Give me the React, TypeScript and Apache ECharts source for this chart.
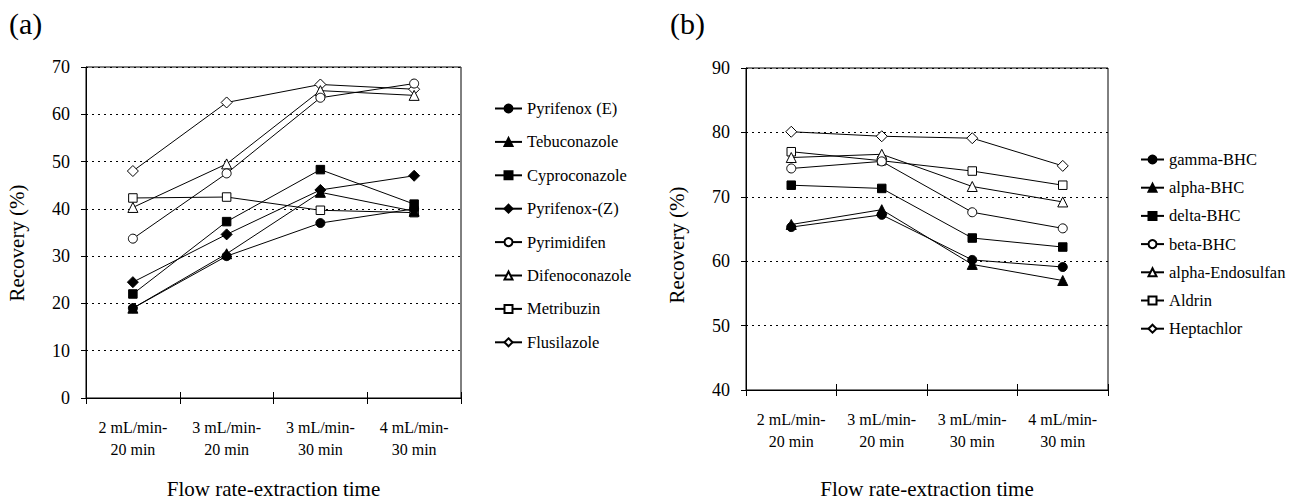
import React, { useEffect, useRef } from "react";
import * as echarts from "echarts";

const categories = ["2 mL/min-\n20 min", "3 mL/min-\n20 min", "3 mL/min-\n30 min", "4 mL/min-\n30 min"];

// Panel (a)
const namesA = ["Pyrifenox (E)", "Tebuconazole", "Cyproconazole", "Pyrifenox-(Z)", "Pyrimidifen", "Difenoconazole", "Metribuzin", "Flusilazole"];
const pyrifenoxE = [19, 30, 37, 40];
const tebuconazole = [19, 30.5, 43.5, 39.5];
const cyproconazole = [22, 37.3, 48.3, 41];
const pyrifenoxZ = [24.5, 34.6, 44, 47];
const pyrimidifen = [33.7, 47.5, 63.5, 66.5];
const difenoconazole = [40.3, 49.5, 65, 64];
const metribuzin = [42.3, 42.5, 39.7, 39.2];
const flusilazole = [48, 62.5, 66.3, 65.3];
const yTicksA = [0, 10, 20, 30, 40, 50, 60, 70];

// Panel (b)
const namesB = ["gamma-BHC", "alpha-BHC", "delta-BHC", "beta-BHC", "alpha-Endosulfan", "Aldrin", "Heptachlor"];
const gammaBHC = [65.3, 67.2, 60.2, 59.1];
const alphaBHC = [65.7, 68, 59.5, 57];
const deltaBHC = [71.8, 71.3, 63.6, 62.2];
const betaBHC = [74.4, 75.5, 67.6, 65.1];
const alphaEndosulfan = [76.1, 76.6, 71.6, 69.2];
const aldrin = [77, 75.6, 74, 71.8];
const heptachlor = [80.1, 79.4, 79.1, 74.8];
const yTicksB = [40, 50, 60, 70, 80, 90];

const xTitle = "Flow rate-extraction time";
const yTitle = "Recovery (%)";

const FONT = "'Liberation Serif', 'Times New Roman', serif";

type Shape = { symbol: string; filled: boolean; size: number };
const circleF: Shape = { symbol: "circle", filled: true, size: 9 };
const triF: Shape = { symbol: "triangle", filled: true, size: 10 };
const rectF: Shape = { symbol: "rect", filled: true, size: 8.5 };
const diaF: Shape = { symbol: "diamond", filled: true, size: 11 };
const circleO: Shape = { symbol: "circle", filled: false, size: 9 };
const triO: Shape = { symbol: "triangle", filled: false, size: 10 };
const rectO: Shape = { symbol: "rect", filled: false, size: 8.5 };
const diaO: Shape = { symbol: "diamond", filled: false, size: 11 };

const seriesA: [string, number[], Shape][] = [
  [namesA[7], flusilazole, diaO],
  [namesA[6], metribuzin, rectO],
  [namesA[5], difenoconazole, triO],
  [namesA[4], pyrimidifen, circleO],
  [namesA[3], pyrifenoxZ, diaF],
  [namesA[2], cyproconazole, rectF],
  [namesA[1], tebuconazole, triF],
  [namesA[0], pyrifenoxE, circleF],
];

const seriesB: [string, number[], Shape][] = [
  [namesB[6], heptachlor, diaO],
  [namesB[5], aldrin, rectO],
  [namesB[4], alphaEndosulfan, triO],
  [namesB[3], betaBHC, circleO],
  [namesB[2], deltaBHC, rectF],
  [namesB[1], alphaBHC, triF],
  [namesB[0], gammaBHC, circleF],
];

function mkSeries(name: string, data: number[], s: Shape, xi: number, yi: number) {
  return {
    type: "line",
    name,
    data,
    xAxisIndex: xi,
    yAxisIndex: yi,
    symbol: s.symbol,
    symbolSize: s.size,
    showAllSymbol: true,
    lineStyle: { color: "#000", width: 1 },
    itemStyle: { color: s.filled ? "#000" : "#fff", borderColor: "#000", borderWidth: 1 },
    emphasis: { disabled: true },
  };
}

function mkXAxis(gridIndex: number, main: boolean, nameGap: number) {
  return {
    type: "category",
    gridIndex,
    data: categories,
    boundaryGap: true,
    position: "bottom",
    name: main ? xTitle : "",
    nameLocation: "middle",
    nameGap,
    nameTextStyle: { fontFamily: FONT, fontSize: 21, color: "#000" },
    axisLine: { show: main, lineStyle: { color: "#000", width: 1 } },
    axisTick: { show: true, inside: !main, length: 6, lineStyle: { color: "#000" } },
    axisLabel: {
      show: main,
      fontFamily: FONT,
      fontSize: 16,
      color: "#000",
      lineHeight: 22,
      margin: 18,
    },
    splitLine: { show: false },
  };
}

function mkYAxis(gridIndex: number, min: number, max: number) {
  return {
    type: "value",
    gridIndex,
    min,
    max,
    interval: 10,
    axisLine: { show: true, lineStyle: { color: "#000", width: 1 } },
    axisTick: { show: true, length: 5, lineStyle: { color: "#000" } },
    axisLabel: { fontFamily: FONT, fontSize: 18, color: "#000", margin: 16 },
    splitLine: { show: true, lineStyle: { color: "#000", type: [2, 4], width: 1 } },
  };
}

function yTitleText(x: number, y: number) {
  return {
    type: "text",
    x,
    y,
    rotation: Math.PI / 2,
    style: {
      text: yTitle,
      fontFamily: FONT,
      fontSize: 21,
      fill: "#000",
      align: "center",
      verticalAlign: "middle",
    },
  };
}

export default function App() {
  const ref = useRef<HTMLDivElement>(null);
  useEffect(() => {
    if (!ref.current) return;
    const chart = echarts.init(ref.current, undefined, { renderer: "svg" });
    const option = {
      animation: false,
      backgroundColor: "#fff",
      textStyle: { fontFamily: FONT, color: "#000" },
      grid: [
        { left: 86, top: 67, width: 375, height: 336, show: true, borderColor: "#000", borderWidth: 1, backgroundColor: "transparent" },
        { left: 746, top: 68, width: 362, height: 324, show: true, borderColor: "#000", borderWidth: 1, backgroundColor: "transparent" },
      ],
      xAxis: [mkXAxis(0, true, 80), mkXAxis(0, false, 0), mkXAxis(1, true, 88), mkXAxis(1, false, 0)],
      yAxis: [mkYAxis(0, yTicksA[0], yTicksA[yTicksA.length - 1]), mkYAxis(1, yTicksB[0], yTicksB[yTicksB.length - 1])],
      legend: [
        {
          data: namesA,
          orient: "vertical",
          left: 489,
          top: 95,
          itemWidth: 27,
          itemHeight: 10,
          itemGap: 16.4,
          selectedMode: false,
          textStyle: { fontFamily: FONT, fontSize: 16.5, color: "#000", lineHeight: 16 },
        },
        {
          data: namesB,
          orient: "vertical",
          left: 1135,
          top: 146,
          itemWidth: 23,
          itemHeight: 10,
          itemGap: 11.2,
          selectedMode: false,
          textStyle: { fontFamily: FONT, fontSize: 16.5, color: "#000", lineHeight: 16 },
        },
      ],
      graphic: [
        { type: "text", left: 9, top: 8, style: { text: "(a)", fontFamily: FONT, fontSize: 30, fill: "#000" } },
        { type: "text", left: 670, top: 8, style: { text: "(b)", fontFamily: FONT, fontSize: 30, fill: "#000" } },
        yTitleText(17, 243),
        yTitleText(677, 245),
      ],
      series: [
        ...seriesA.map(([n, d, s]) => mkSeries(n, d, s, 0, 0)),
        ...seriesB.map(([n, d, s]) => mkSeries(n, d, s, 2, 1)),
      ],
    };
    chart.setOption(option as any);
    return () => chart.dispose();
  }, []);
  return <div ref={ref} style={{ position: "fixed", left: 0, top: 0, width: 1307, height: 504 }} />;
}
